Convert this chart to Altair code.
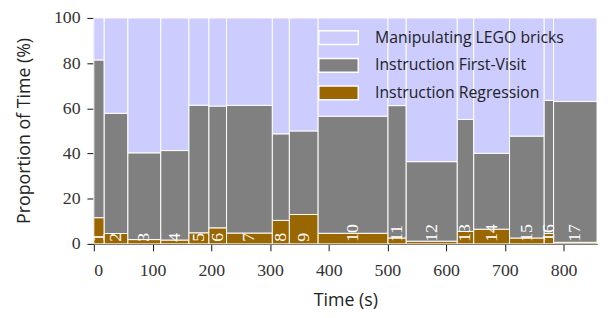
import altair as alt
import pandas as pd

# Segment boundaries (seconds) and segment ids
segment_edges = [0, 17.7, 58, 114, 162, 196, 226, 304, 333, 382, 501, 532, 619, 647, 708, 767, 783, 857]
segment_ids = [str(i) for i in range(1, 18)]

# Proportions (%) per segment
regression = [11.6, 4.6, 1.9, 1.7, 4.9, 7.1, 4.8, 10.4, 13.0, 4.7, 2.6, 1.2, 5.5, 6.5, 2.6, 4.6, 0.7]
first_visit = [69.8, 53.2, 38.4, 39.6, 56.5, 53.9, 56.5, 38.3, 37.0, 51.8, 58.6, 35.2, 49.6, 33.6, 45.1, 58.9, 62.3]
manipulating = [18.6, 42.2, 59.7, 58.7, 38.6, 39.0, 38.7, 51.3, 50.0, 43.5, 38.8, 63.6, 44.9, 59.9, 52.3, 36.5, 37.0]

series_names = ["Manipulating LEGO bricks", "Instruction First-Visit", "Instruction Regression"]
series_colors = ["#ccccff", "#808080", "#996600"]

x_ticks = [0, 100, 200, 300, 400, 500, 600, 700, 800]
y_ticks = [0, 20, 40, 60, 80, 100]

SERIF = "Liberation Serif"
SANS = "Open Sans"

rows = []
labels = []
for i in range(len(segment_ids)):
    start, end = segment_edges[i], segment_edges[i + 1]
    base = 0.0
    for name, vals in [
        ("Instruction Regression", regression),
        ("Instruction First-Visit", first_visit),
        ("Manipulating LEGO bricks", manipulating),
    ]:
        rows.append(dict(seg=segment_ids[i], start=start, end=end, series=name,
                         y0=base, y1=base + vals[i]))
        base += vals[i]
    labels.append(dict(seg=segment_ids[i], mid=(start + end) / 2, ypos=0.9))

df = pd.DataFrame(rows)
lab = pd.DataFrame(labels)

xscale = alt.Scale(domain=[0, 857], nice=False, zero=False)
yscale = alt.Scale(domain=[0, 100], nice=False)

bars = alt.Chart(df).mark_rect(stroke="white", strokeWidth=1).encode(
    x=alt.X("start:Q", scale=xscale,
            axis=alt.Axis(values=x_ticks, title="Time (s)", labelPadding=11, titlePadding=12,
                          labelFont=SERIF, labelFontSize=18)),
    x2="end:Q",
    y=alt.Y("y0:Q", scale=yscale,
            axis=alt.Axis(values=y_ticks, title="Proportion of Time (%)", labelPadding=7,
                          titleX=-61, titleY=114, labelFont=SERIF, labelFontSize=18)),
    y2="y1:Q",
    color=alt.Color("series:N",
                    scale=alt.Scale(domain=series_names, range=series_colors),
                    legend=alt.Legend(orient="none", legendX=227, legendY=6, title=None,
                                      symbolType="M-1,-0.35L1,-0.35L1,0.35L-1,0.35Z",
                                      symbolSize=1600, symbolStrokeColor="white",
                                      symbolStrokeWidth=1.5, symbolOpacity=1,
                                      labelFont=SANS, labelFontSize=16, labelLimit=400,
                                      labelColor="#222", clipHeight=28, rowPadding=0,
                                      labelOffset=16, padding=0)),
)

text = alt.Chart(lab).mark_text(angle=270, align="left", baseline="middle", color="white",
                                font=SERIF, fontSize=18).encode(
    x=alt.X("mid:Q", scale=xscale),
    y=alt.Y("ypos:Q", scale=yscale),
    text="seg:N",
)

chart = alt.layer(bars, text).properties(
    width=510, height=229,
    autosize=alt.AutoSizeParams(type="none"),
    padding={"left": 87, "top": 8, "right": 3, "bottom": 70},
).configure_axis(
    domainColor="#111", tickColor="#111", tickSize=7, grid=False,
    labelColor="#333",
    titleFont=SANS, titleFontSize=18, titleColor="#222", titleFontWeight="normal",
).configure_view(stroke=None)

chart.save("out.html", embed_options={"renderer": "svg", "actions": False})
